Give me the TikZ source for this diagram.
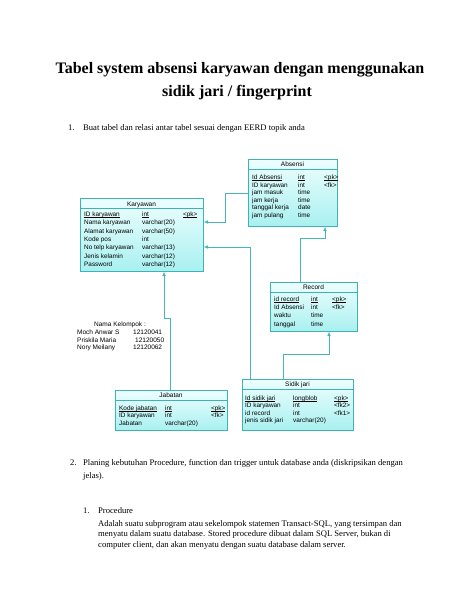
\documentclass[tikz,border=0pt]{standalone}
\usepackage{fontspec}
\setmainfont{Liberation Serif}
\newfontfamily\arialf{Liberation Sans}
\usetikzlibrary{arrows.meta}
\definecolor{boxc}{HTML}{3DB3B3}
\definecolor{linec}{HTML}{45B5B5}
\definecolor{filltop}{HTML}{EEFEFE}
\definecolor{fillbot}{HTML}{A9F0F0}
\newcommand\myul[1]{\leavevmode\vtop{\hbox{\raisebox{0pt}[\height][0pt]{#1}}\kern0.7pt\hrule height 0.35pt}}
\tikzset{
  tbl/.style={rectangle, draw=boxc, line width=0.6pt, inner sep=0pt, anchor=north west,
    top color=filltop, bottom color=fillbot},
  sep/.style={draw=boxc, line width=0.6pt},
  hdr/.style={anchor=base, inner sep=0pt, font=\arialf\fontsize{6.5}{8}\selectfont},
  cell/.style={anchor=base west, inner sep=0pt, font=\arialf\fontsize{6.4}{8}\selectfont},
  grp/.style={anchor=base west, inner sep=0pt, font=\arialf\fontsize{6.5}{8}\selectfont},
  body/.style={anchor=base west, inner sep=0pt, font=\fontsize{8.6}{10}\selectfont},
  ttl/.style={anchor=base, inner sep=0pt, font=\fontsize{16}{18}\selectfont\bfseries},
  rel/.style={draw=linec, line width=0.6pt, -{Latex[length=4.5pt,width=3.6pt]}}
}
\begin{document}
\begin{tikzpicture}[x=1pt,y=-1pt]
\useasboundingbox (0,0) rectangle (474,613);
\fill[white] (0,0) rectangle (474,613);

% Title
\node[ttl] (t1) at (240,73) {Tabel system absensi karyawan dengan menggunakan};
\node[ttl] (t2) at (237,96) {sidik jari / fingerprint};

% item 1
\node[body] (n1) at (68,130) {1.};
\node[body] (i1) at (83,130) {Buat tabel dan relasi antar tabel sesuai dengan EERD topik anda};

% Karyawan
\node[tbl, minimum width=123pt, minimum height=73pt] (kar) at (80,198) {};
\node[hdr] (karh) at (141.5,206) {Karyawan};
\draw[sep] ([yshift=-10pt]kar.north west) -- ([yshift=-10pt]kar.north east);
\node[cell] (k1n) at (84,216.5) {\myul{ID karyawan}};
\node[cell] (k1t) at (142,216.5) {\myul{int}};
\node[cell] (k1k) at (183,216.5) {\myul{<pk>}};
\node[cell] (k2n) at (84,224.8) {Nama karyawan};
\node[cell] (k2t) at (142,224.8) {varchar(20)};
\node[cell] (k3n) at (84,233.1) {Alamat karyawan};
\node[cell] (k3t) at (142,233.1) {varchar(50)};
\node[cell] (k4n) at (84,241.4) {Kode pos};
\node[cell] (k4t) at (142,241.4) {int};
\node[cell] (k5n) at (84,249.7) {No telp karyawan};
\node[cell] (k5t) at (142,249.7) {varchar(13)};
\node[cell] (k6n) at (84,258) {Jenis kelamin};
\node[cell] (k6t) at (142,258) {varchar(12)};
\node[cell] (k7n) at (84,266.3) {Password};
\node[cell] (k7t) at (142,266.3) {varchar(12)};

% Absensi
\node[tbl, minimum width=89pt, minimum height=67pt] (abs) at (248,159) {};
\node[hdr] (absh) at (292.5,166) {Absensi};
\draw[sep] ([yshift=-10pt]abs.north west) -- ([yshift=-10pt]abs.north east);
\node[cell] (a1n) at (252,179.5) {\myul{Id Absensi}};
\node[cell] (a1t) at (298,179.5) {\myul{int}};
\node[cell] (a1k) at (324,179.5) {\myul{<pk>}};
\node[cell] (a2n) at (252,187) {ID karyawan};
\node[cell] (a2t) at (298,187) {int};
\node[cell] (a2k) at (324,187) {<fk>};
\node[cell] (a3n) at (252,194.5) {jam masuk};
\node[cell] (a3t) at (298,194.5) {time};
\node[cell] (a4n) at (252,202) {jam kerja};
\node[cell] (a4t) at (298,202) {time};
\node[cell] (a5n) at (252,209.5) {tanggal kerja};
\node[cell] (a5t) at (298,209.5) {date};
\node[cell] (a6n) at (252,217) {jam pulang};
\node[cell] (a6t) at (298,217) {time};

% Record
\node[tbl, minimum width=87pt, minimum height=49pt] (rec) at (270,282) {};
\node[hdr] (rech) at (313.5,289) {Record};
\draw[sep] ([yshift=-10pt]rec.north west) -- ([yshift=-10pt]rec.north east);
\node[cell] (r1n) at (274,301) {\myul{id record}};
\node[cell] (r1t) at (311,301) {\myul{int}};
\node[cell] (r1k) at (332,301) {\myul{<pk>}};
\node[cell] (r2n) at (274,309) {Id Absensi};
\node[cell] (r2t) at (311,309) {int};
\node[cell] (r2k) at (332,309) {<fk>};
\node[cell] (r3n) at (274,317.5) {waktu};
\node[cell] (r3t) at (311,317.5) {time};
\node[cell] (r4n) at (274,326) {tanggal};
\node[cell] (r4t) at (311,326) {time};

% Jabatan
\node[tbl, minimum width=112pt, minimum height=40pt] (jab) at (115,390) {};
\node[hdr] (jabh) at (171,397) {Jabatan};
\draw[sep] ([yshift=-10pt]jab.north west) -- ([yshift=-10pt]jab.north east);
\node[cell] (j1n) at (119,410) {\myul{Kode jabatan}};
\node[cell] (j1t) at (165,410) {\myul{int}};
\node[cell] (j1k) at (211,410) {\myul{<pk>}};
\node[cell] (j2n) at (119,417.5) {ID karyawan};
\node[cell] (j2t) at (165,417.5) {int};
\node[cell] (j2k) at (211,417.5) {<fk>};
\node[cell] (j3n) at (119,425) {Jabatan};
\node[cell] (j3t) at (165,425) {varchar(20)};

% Sidik jari
\node[tbl, minimum width=111pt, minimum height=51pt] (sid) at (242,379) {};
\node[hdr] (sidh) at (297.5,386) {Sidik jari};
\draw[sep] ([yshift=-10pt]sid.north west) -- ([yshift=-10pt]sid.north east);
\node[cell] (s1n) at (245,400) {\myul{Id sidik jari}};
\node[cell] (s1t) at (293,400) {\myul{longblob}};
\node[cell] (s1k) at (334,400) {\myul{<pk>}};
\node[cell] (s2n) at (245,407.5) {ID karyawan};
\node[cell] (s2t) at (293,407.5) {int};
\node[cell] (s2k) at (334,407.5) {<fk2>};
\node[cell] (s3n) at (245,415) {id record};
\node[cell] (s3t) at (293,415) {int};
\node[cell] (s3k) at (334,415) {<fk1>};
\node[cell] (s4n) at (245,422.5) {jenis sidik jari};
\node[cell] (s4t) at (293,422.5) {varchar(20)};

% connectors
\draw[rel] (abs.west) -- ++(-23,0) |- ([yshift=-24pt]kar.north east);
\draw[rel] ([xshift=8pt]sid.north west) |- ([yshift=-49pt]kar.north east);
\draw[rel] ([xshift=55pt]jab.north west) -- ++(0,-72) -| ([xshift=84pt]kar.south west);
\draw[rel] ([xshift=30pt]rec.north west) -- ++(0,-44) -| ([xshift=77pt]abs.south west);
\draw[rel] ([xshift=41pt]sid.north west) -- ++(0,-25) -| ([xshift=59pt]rec.south west);

% group
\node[hdr] (g0) at (120,326.5) {Nama Kelompok :};
\node[grp] (g1n) at (77,334.5) {Moch Anwar S};
\node[grp] (g1m) at (133,334.5) {12120041};
\node[grp] (g2n) at (77,342) {Priskila Maria};
\node[grp] (g2m) at (135,342) {12120050};
\node[grp] (g3n) at (77,349.5) {Nory Meilany};
\node[grp] (g3m) at (133,349.5) {12120062};

% item 2
\node[body] (n2) at (70,465) {2.};
\node[body] (i2a) at (83,465) {Planing kebutuhan Procedure, function dan trigger untuk database anda (diskripsikan dengan};
\node[body] (i2b) at (83,478.3) {jelas).};

\node[body] (n3) at (83,513) {1.};
\node[body] (i3) at (98,513) {Procedure};
\node[body] (p1) at (98,526) {Adalah suatu subprogram atau sekelompok statemen Transact-SQL, yang tersimpan dan};
\node[body] (p2) at (98,536.8) {menyatu dalam suatu database. Stored procedure dibuat dalam SQL Server, bukan di};
\node[body] (p3) at (98,547.6) {computer client, dan akan menyatu dengan suatu database dalam server.};
\end{tikzpicture}
\end{document}
